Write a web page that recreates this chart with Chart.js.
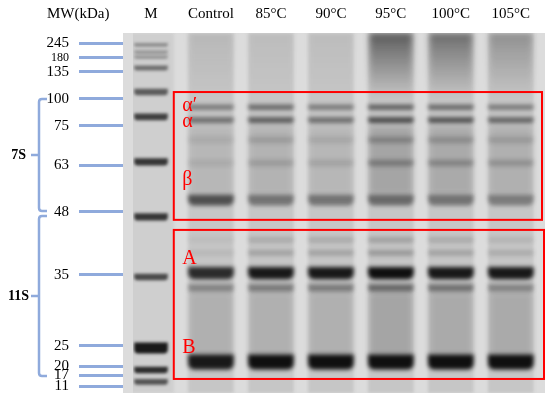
<!DOCTYPE html>
<html>
<head>
<meta charset="utf-8">
<script src="https://cdn.jsdelivr.net/npm/chart.js@4.4.0/dist/chart.umd.min.js"></script>
<style>
  html, body { margin: 0; padding: 0; background: #fff; }
  #wrap { width: 550px; height: 403px; }
</style>
</head>
<body>
<div id="wrap"><canvas id="gel"></canvas></div>
<script>
// lanes, left to right
var laneNames = ['M', 'Control', '85°C', '90°C', '95°C', '100°C', '105°C'];

// marker ladder: kDa and migration (% of gel length from the wells)
var mwLabels = [245, 180, 135, 100, 75, 63, 48, 35, 25, 20, 17, 11];
var mwMigration = [2.8, 6.9, 10.8, 18.3, 25.8, 36.7, 49.7, 67.2, 86.9, 92.5, 95.0, 98.1];

// bands in the marker lane and how dark they are (0-1)
var markerBands = [3.3, 5.3, 6.7, 9.7, 16.4, 23.3, 35.8, 51.1, 67.8, 87.5, 93.6, 96.9];
var markerDepth = [0.35, 0.3, 0.3, 0.5, 0.6, 0.75, 0.8, 0.8, 0.7, 0.95, 0.85, 0.65];

// sample bands (alpha', alpha, two faint, beta, two faint, A, below A, B)
var bandMigration = [20.6, 24.2, 29.7, 36.1, 46.4, 57.5, 61.1, 66.7, 70.8, 91.4];
// darkness per sample lane: Control, 85, 90, 95, 100, 105 °C
var bandDepth = [
  [0.45, 0.55, 0.45, 0.6, 0.55, 0.45],
  [0.5, 0.6, 0.5, 0.7, 0.65, 0.55],
  [0.08, 0.15, 0.1, 0.25, 0.2, 0.15],
  [0.08, 0.15, 0.12, 0.3, 0.25, 0.2],
  [0.65, 0.45, 0.45, 0.5, 0.45, 0.4],
  [0.05, 0.15, 0.15, 0.2, 0.15, 0.1],
  [0.08, 0.2, 0.2, 0.25, 0.2, 0.15],
  [0.85, 0.95, 0.95, 1, 0.95, 0.95],
  [0.35, 0.4, 0.4, 0.5, 0.45, 0.35],
  [0.95, 1, 1, 1, 1, 1]
];

// diffuse staining between bands (first one fades out from the wells)
var hazeFrom = [0, 26, 72];
var hazeTo = [18, 45, 90];
var hazeDepth = [
  [0.08, 0.05, 0.05, 0.6, 0.5, 0.3],
  [0.08, 0.1, 0.08, 0.18, 0.15, 0.12],
  [0.12, 0.12, 0.12, 0.18, 0.15, 0.15]
];

// band heights in migration units (styling)
var bandThickness = [1.4, 1.6, 1.8, 1.8, 3.0, 1.6, 1.6, 3.4, 2.2, 4.2];
var markerThickness = [1.0, 1.0, 1.0, 1.4, 1.8, 1.9, 2.0, 2.0, 1.8, 3.0, 1.8, 1.6];

var FONT = 'Liberation Serif';
var BLUE = '#8faadc';
var RED = '#ff0000';

function ink(a) { return 'rgba(15,15,15,' + a + ')'; }

// fades a lane colour downward from the wells
function fade(depths, to) {
  return function (c) {
    var chart = c.chart, a = chart.chartArea;
    if (!a) return ink(0);
    var d = depths[c.dataIndex];
    var g = chart.ctx.createLinearGradient(0, a.top, 0, chart.scales.y.getPixelForValue(to));
    g.addColorStop(0, ink(d));
    g.addColorStop(0.25, ink(d * 0.7));
    g.addColorStop(1, ink(0));
    return g;
  };
}

var datasets = [];

// lane backgrounds
datasets.push({
  data: laneNames.map(function (n, i) { return { x: i, y: [0, 100] }; }),
  backgroundColor: laneNames.map(function (n, i) { return i === 0 ? '#cfcfcf' : '#c6c6c6'; }),
  barPercentage: 0.76, categoryPercentage: 1, order: 30, blur: 1.5
});

// haze inside sample lanes
hazeFrom.forEach(function (from, h) {
  datasets.push({
    data: hazeDepth[h].map(function (d, i) { return { x: i + 1, y: [from, hazeTo[h]] }; }),
    backgroundColor: h === 0 ? fade(hazeDepth[h], hazeTo[h]) : hazeDepth[h].map(ink),
    barPercentage: 0.72, categoryPercentage: 1, order: 20, blur: 3
  });
});

// marker ladder bands
markerBands.forEach(function (m, b) {
  var t = markerThickness[b] / 2;
  datasets.push({
    data: [{ x: 0, y: [m - t, m + t] }],
    backgroundColor: ink(markerDepth[b]),
    barPercentage: 0.56, categoryPercentage: 1, order: 5, blur: 1.4, borderRadius: 4
  });
});

// sample bands
bandMigration.forEach(function (m, b) {
  var t = bandThickness[b] / 2;
  datasets.push({
    data: bandDepth[b].map(function (d, i) { return { x: i + 1, y: [m - t, m + t] }; }),
    backgroundColor: bandDepth[b].map(ink),
    barPercentage: 0.76, categoryPercentage: 1, order: 1, blur: 2.2, borderRadius: 6
  });
});

var blurPlugin = {
  id: 'blur',
  beforeDatasetDraw: function (chart, args) {
    var ds = chart.data.datasets[args.index];
    chart.ctx.save();
    if (ds.blur) chart.ctx.filter = 'blur(' + ds.blur + 'px)';
  },
  afterDatasetDraw: function (chart) { chart.ctx.restore(); }
};

var gelPlugin = {
  id: 'gel',
  beforeDatasetsDraw: function (chart) {
    var a = chart.chartArea, ctx = chart.ctx;
    ctx.save();
    ctx.fillStyle = '#dcdcdc';
    ctx.fillRect(a.left - 10, a.top, a.right - a.left + 10, a.bottom - a.top);
    ctx.restore();
  },
  afterDraw: function (chart) {
    var ctx = chart.ctx, a = chart.chartArea;
    var xs = chart.scales.x, ys = chart.scales.y;
    ctx.save();

    // red boxes round 7S and 11S subunits
    ctx.strokeStyle = RED;
    ctx.lineWidth = 2;
    var bx = xs.getPixelForValue(0.38);
    var t1 = ys.getPixelForValue(16.4), b1 = ys.getPixelForValue(51.9);
    var t2 = ys.getPixelForValue(54.7), b2 = ys.getPixelForValue(96.1);
    ctx.strokeRect(bx, t1, a.right - 3 - bx, b1 - t1);
    ctx.strokeRect(bx, t2, a.right - 1 - bx, b2 - t2);

    ctx.fillStyle = RED;
    ctx.font = '20px "' + FONT + '"';
    ctx.textAlign = 'left';
    ctx.textBaseline = 'middle';
    var lx = xs.getPixelForValue(0.52);
    ctx.fillText('α′', lx, ys.getPixelForValue(20.2));
    ctx.fillText('α', lx, ys.getPixelForValue(24.6));
    ctx.fillText('β', lx, ys.getPixelForValue(40.8));
    ctx.fillText('A', lx, ys.getPixelForValue(62.8));
    ctx.fillText('B', lx, ys.getPixelForValue(87.5));

    // braces 7S / 11S
    var top7 = ys.getPixelForValue(mwMigration[3]);
    var bot7 = ys.getPixelForValue(mwMigration[6]) - 1;
    var top11 = ys.getPixelForValue(mwMigration[6]) + 4;
    var bot11 = ys.getPixelForValue(mwMigration[10]) + 1;
    ctx.strokeStyle = BLUE;
    ctx.lineWidth = 2.5;
    [[top7, bot7], [top11, bot11]].forEach(function (p) {
      var mid = (p[0] + p[1]) / 2;
      ctx.beginPath();
      ctx.moveTo(47, p[0]); ctx.lineTo(42, p[0]);
      ctx.quadraticCurveTo(39, p[0], 39, p[0] + 3);
      ctx.lineTo(39, p[1] - 3);
      ctx.quadraticCurveTo(39, p[1], 42, p[1]);
      ctx.lineTo(47, p[1]);
      ctx.moveTo(39, mid); ctx.lineTo(31, mid);
      ctx.stroke();
    });
    ctx.fillStyle = '#000';
    ctx.font = 'bold 14px "' + FONT + '"';
    ctx.textAlign = 'right';
    ctx.fillText('7S', 26, (top7 + bot7) / 2);
    ctx.fillText('11S', 29, (top11 + bot11) / 2);

    ctx.font = '15px "' + FONT + '"';
    ctx.textAlign = 'left';
    ctx.fillText('MW(kDa)', 47, 14);
    ctx.restore();
  }
};

new Chart(document.getElementById('gel'), {
  type: 'bar',
  data: { datasets: datasets },
  plugins: [blurPlugin, gelPlugin],
  options: {
    responsive: true,
    maintainAspectRatio: false,
    animation: false,
    layout: { padding: { left: 0, right: 5, top: 0, bottom: 10 } },
    plugins: { legend: { display: false }, tooltip: { enabled: false } },
    datasets: { bar: { grouped: false } },
    scales: {
      x: {
        type: 'linear',
        position: 'top',
        offset: false,
        min: -0.3,
        max: 6.57,
        afterBuildTicks: function (s) { s.ticks = laneNames.map(function (n, i) { return { value: i }; }); },
        afterFit: function (s) { s.height = 33; s.paddingLeft = 0; s.paddingRight = 0; },
        grid: { display: false, drawTicks: false, offset: false },
        border: { display: false },
        ticks: {
          autoSkip: false, maxRotation: 0, padding: 10, color: '#000',
          font: { family: FONT, size: 15 },
          callback: function (v) { return laneNames[v]; }
        }
      },
      y: {
        type: 'linear',
        reverse: true,
        min: 0,
        max: 100,
        afterBuildTicks: function (s) { s.ticks = mwMigration.map(function (v) { return { value: v }; }); },
        afterFit: function (s) { s.width = 133; s.paddingTop = 0; s.paddingBottom = 0; },
        grid: { drawOnChartArea: false, drawTicks: true, tickLength: 54, tickWidth: 3, tickColor: BLUE },
        border: { display: false },
        ticks: {
          autoSkip: false, padding: 10, color: '#000',
          font: function (c) { return { family: FONT, size: c.index === 1 ? 12 : 15 }; },
          callback: function (v) {
            var i = mwMigration.indexOf(v);
            return i >= 0 ? String(mwLabels[i]) : '';
          }
        }
      }
    }
  }
});
</script>
</body>
</html>
